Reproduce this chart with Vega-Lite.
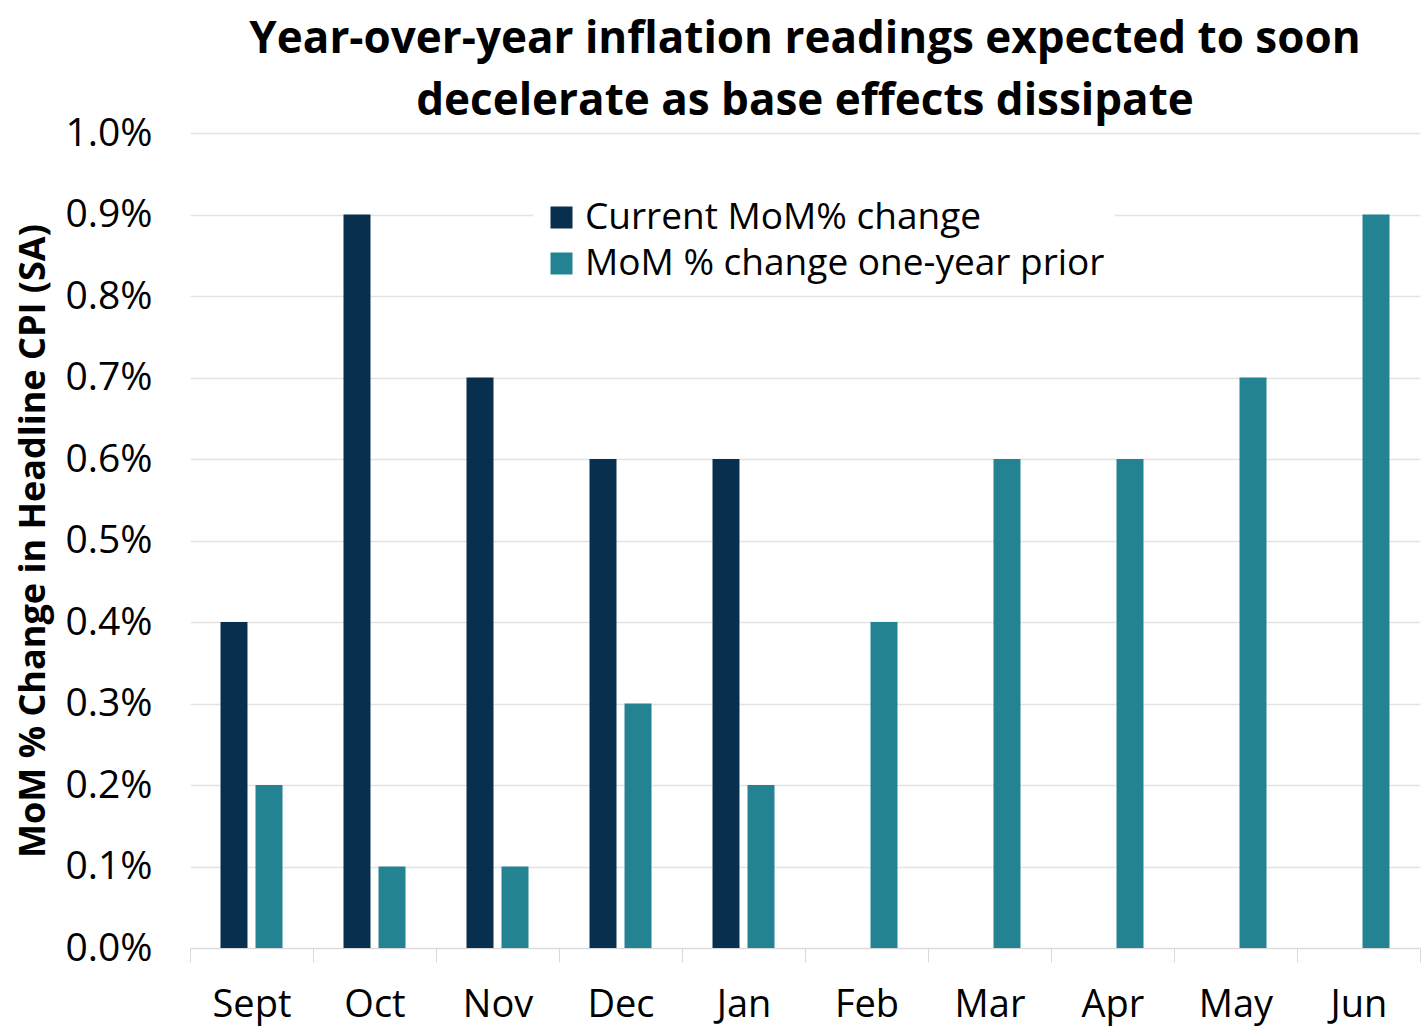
{
  "$schema": "https://vega.github.io/schema/vega-lite/v6.json",
  "autosize": "none",
  "width": 1230,
  "height": 815,
  "padding": {"left": 190, "top": 133, "right": 1, "bottom": 83},
  "background": "white",
  "config": {
    "font": "Open Sans",
    "view": {"stroke": null}
  },
  "title": {
    "text": ["Year-over-year inflation readings expected to soon", "decelerate as base effects dissipate"],
    "font": "Open Sans",
    "fontSize": 44,
    "fontWeight": "bold",
    "color": "black",
    "anchor": "middle",
    "offset": 0,
    "dy": 10,
    "lineHeight": 62
  },
  "data": {
    "values": [
      {"month": "Sept", "series": "Current MoM% change", "value": 0.004},
      {"month": "Sept", "series": "MoM % change one-year prior", "value": 0.002},
      {"month": "Oct", "series": "Current MoM% change", "value": 0.009},
      {"month": "Oct", "series": "MoM % change one-year prior", "value": 0.001},
      {"month": "Nov", "series": "Current MoM% change", "value": 0.007},
      {"month": "Nov", "series": "MoM % change one-year prior", "value": 0.001},
      {"month": "Dec", "series": "Current MoM% change", "value": 0.006},
      {"month": "Dec", "series": "MoM % change one-year prior", "value": 0.003},
      {"month": "Jan", "series": "Current MoM% change", "value": 0.006},
      {"month": "Jan", "series": "MoM % change one-year prior", "value": 0.002},
      {"month": "Feb", "series": "MoM % change one-year prior", "value": 0.004},
      {"month": "Mar", "series": "MoM % change one-year prior", "value": 0.006},
      {"month": "Apr", "series": "MoM % change one-year prior", "value": 0.006},
      {"month": "May", "series": "MoM % change one-year prior", "value": 0.007},
      {"month": "Jun", "series": "MoM % change one-year prior", "value": 0.009}
    ]
  },
  "mark": {"type": "bar"},
  "encoding": {
    "x": {
      "field": "month",
      "type": "nominal",
      "sort": ["Sept", "Oct", "Nov", "Dec", "Jan", "Feb", "Mar", "Apr", "May", "Jun"],
      "scale": {"paddingInner": 0, "paddingOuter": 0},
      "axis": {
        "title": null,
        "labelAngle": 0,
        "labelFontSize": 38,
        "labelColor": "black",
        "labelPadding": 24,
        "tickBand": "extent",
        "tickSize": 14,
        "tickColor": "#d9d9d9",
        "domainColor": "#d9d9d9",
        "grid": false
      }
    },
    "xOffset": {
      "field": "series",
      "type": "nominal",
      "scale": {
        "domain": ["Current MoM% change", "MoM % change one-year prior"],
        "paddingInner": 0.229,
        "paddingOuter": 0.871
      }
    },
    "y": {
      "field": "value",
      "type": "quantitative",
      "scale": {"domain": [0, 0.01], "nice": false},
      "axis": {
        "title": "MoM % Change in Headline CPI (SA)",
        "titleFontSize": 36,
        "titleFontWeight": "bold",
        "titleColor": "black",
        "titlePadding": 12,
        "format": ".1%",
        "values": [0, 0.001, 0.002, 0.003, 0.004, 0.005, 0.006, 0.007, 0.008, 0.009, 0.01],
        "labelFontSize": 39,
        "labelColor": "black",
        "labelPadding": 38,
        "ticks": false,
        "domain": false,
        "grid": true,
        "gridColor": "#e3e3e3",
        "gridWidth": 1.3
      }
    },
    "color": {
      "field": "series",
      "type": "nominal",
      "scale": {
        "domain": ["Current MoM% change", "MoM % change one-year prior"],
        "range": ["#08304e", "#238393"]
      },
      "legend": {
        "title": null,
        "orient": "none",
        "legendX": 343,
        "legendY": 56,
        "fillColor": "white",
        "padding": 10,
        "symbolType": "square",
        "symbolSize": 484,
        "symbolStrokeWidth": 0,
        "labelFontSize": 37,
        "labelColor": "black",
        "labelOffset": 5,
        "labelLimit": 800,
        "rowPadding": 8
      }
    }
  }
}
